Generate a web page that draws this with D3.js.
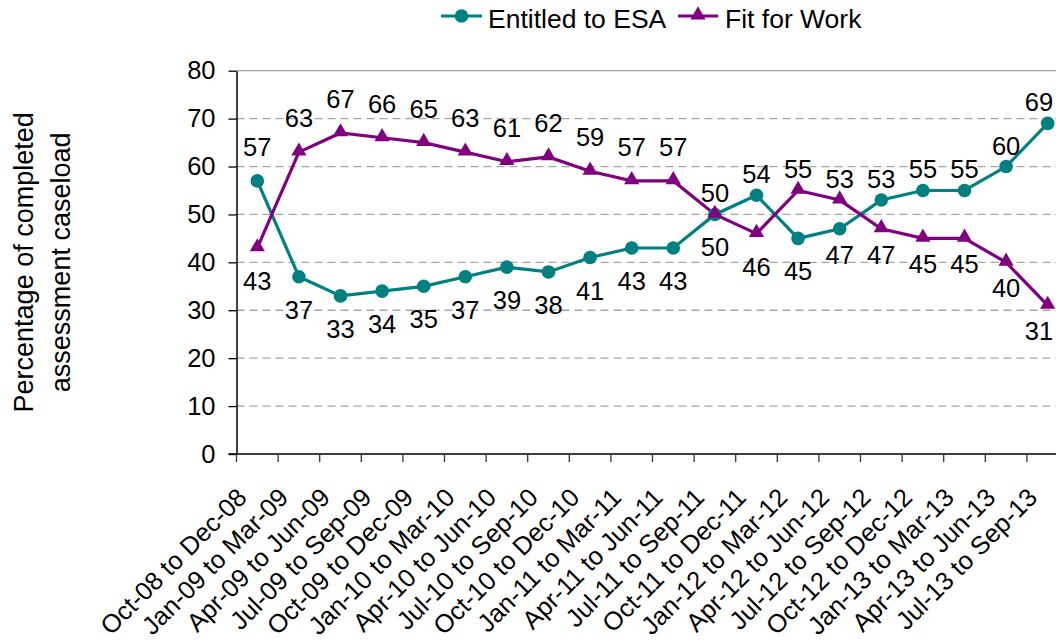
<!DOCTYPE html>
<html>
<head>
<meta charset="utf-8">
<script src="https://cdn.jsdelivr.net/npm/d3@7"></script>
<style>
  html, body { margin: 0; padding: 0; background: #fff; }
  svg { display: block; font-family: "Liberation Sans", Arial, sans-serif; }
</style>
</head>
<body>
<svg id="chart" width="1056" height="643"></svg>
<script>
const categories = [
  "Oct-08 to Dec-08", "Jan-09 to Mar-09", "Apr-09 to Jun-09", "Jul-09 to Sep-09",
  "Oct-09 to Dec-09", "Jan-10 to Mar-10", "Apr-10 to Jun-10", "Jul-10 to Sep-10",
  "Oct-10 to Dec-10", "Jan-11 to Mar-11", "Apr-11 to Jun-11", "Jul-11 to Sep-11",
  "Oct-11 to Dec-11", "Jan-12 to Mar-12", "Apr-12 to Jun-12", "Jul-12 to Sep-12",
  "Oct-12 to Dec-12", "Jan-13 to Mar-13", "Apr-13 to Jun-13", "Jul-13 to Sep-13"
];
const entitledESA = [57, 37, 33, 34, 35, 37, 39, 38, 41, 43, 43, 50, 54, 45, 47, 53, 55, 55, 60, 69];
const fitForWork  = [43, 63, 67, 66, 65, 63, 61, 62, 59, 57, 57, 50, 46, 55, 53, 47, 45, 45, 40, 31];
const yTicks = [0, 10, 20, 30, 40, 50, 60, 70, 80];
const seriesNames = ["Entitled to ESA", "Fit for Work"];
const yTitle = ["Percentage of completed", "assessment caseload"];

(function () {
const teal = "#008080", purple = "#800080";
const fsTick = 25.5, fsLab = 25.5, fsX = 25.5, fsTitle = 27, fsLeg = 26.5;

const svg = d3.select("#chart");
const plotLeft = 236.5, plotTop = 70.7, plotBottom = 454, W = 1056;
const bandW = 41.6;

const x = d3.scaleBand().domain(categories).range([plotLeft, plotLeft + bandW * categories.length]).padding(0);
const y = d3.scaleLinear().domain([0, 80]).range([plotBottom, plotTop]);
const cx = d => x(d) + x.bandwidth() / 2;

// gridlines
svg.append("g").selectAll("line")
  .data(yTicks.filter(t => t > 0))
  .join("line")
  .attr("x1", plotLeft).attr("x2", W)
  .attr("y1", d => y(d)).attr("y2", d => y(d))
  .attr("stroke", "#a6a6a6").attr("stroke-width", 1.3)
  .attr("stroke-dasharray", d => d === 80 ? null : "8,5");

// y axis
const yAxis = svg.append("g").attr("transform", `translate(${plotLeft},0)`)
  .call(d3.axisLeft(y).tickValues(yTicks).tickSize(8).tickSizeOuter(0).tickPadding(13));
yAxis.select(".domain").attr("stroke", "#000").attr("stroke-width", 1.5);
yAxis.selectAll(".tick line").attr("stroke", "#000").attr("stroke-width", 1.3);
yAxis.selectAll(".tick text").attr("font-size", fsTick).attr("fill", "#000")
  .attr("font-family", "Liberation Sans, Arial, sans-serif");

// x axis line & ticks at band boundaries
svg.append("line").attr("x1", plotLeft - 8).attr("x2", W).attr("y1", plotBottom).attr("y2", plotBottom)
  .attr("stroke", "#000").attr("stroke-width", 1.5);
const bounds = categories.map(c => x(c));
svg.append("g").selectAll("line").data(bounds).join("line")
  .attr("x1", d => d).attr("x2", d => d).attr("y1", plotBottom).attr("y2", plotBottom + 8)
  .attr("stroke", "#333").attr("stroke-width", 1.3);

// x tick labels
svg.append("g").selectAll("text").data(categories).join("text")
  .attr("transform", d => `translate(${cx(d) - 9},${plotBottom + 45}) rotate(-45)`)
  .attr("text-anchor", "end")
  .attr("font-size", fsX).attr("fill", "#000")
  .text(d => d);

// y title
const yt = svg.append("text").attr("transform", `translate(0,${(plotTop + plotBottom) / 2}) rotate(-90)`)
  .attr("text-anchor", "middle").attr("font-size", fsTitle).attr("fill", "#000");
yt.append("tspan").attr("x", 0).attr("y", 33).text(yTitle[0]);
yt.append("tspan").attr("x", 0).attr("y", 70).text(yTitle[1]);

// lines
const line = d3.line().x((d, i) => cx(categories[i])).y(d => y(d));
svg.append("path").datum(entitledESA).attr("d", line).attr("fill", "none")
  .attr("stroke", teal).attr("stroke-width", 3.2);
svg.append("path").datum(fitForWork).attr("d", line).attr("fill", "none")
  .attr("stroke", purple).attr("stroke-width", 3.2);

// markers
svg.append("g").selectAll("circle").data(entitledESA).join("circle")
  .attr("cx", (d, i) => cx(categories[i])).attr("cy", d => y(d)).attr("r", 6.8)
  .attr("fill", teal);
const tri = d3.symbol().type(d3.symbolTriangle).size(100);
svg.append("g").selectAll("path").data(fitForWork).join("path")
  .attr("d", tri)
  .attr("transform", (d, i) => `translate(${cx(categories[i])},${y(d) - 1})`)
  .attr("fill", purple);

// data labels
function labels(vals, other) {
  svg.append("g").selectAll("text").data(vals).join("text")
    .attr("x", (d, i) => Math.min(cx(categories[i]), W - 17))
    .attr("y", (d, i) => {
      const above = d > other[i] || (d === other[i] && vals === entitledESA);
      const off = above ? (i < 11 ? -34 : -21) : (i < 14 ? 33 : 26);
      return y(d) + off + 9;
    })
    .attr("text-anchor", "middle").attr("font-size", fsLab).attr("fill", "#000")
    .text(d => d);
}
labels(entitledESA, fitForWork);
labels(fitForWork, entitledESA);

// legend
const lg = svg.append("g");
lg.append("line").attr("x1", 441).attr("x2", 482).attr("y1", 16).attr("y2", 16)
  .attr("stroke", teal).attr("stroke-width", 3.2);
lg.append("circle").attr("cx", 461.5).attr("cy", 16).attr("r", 6.8).attr("fill", teal);
lg.append("text").attr("x", 488).attr("y", 28).attr("font-size", fsLeg).attr("fill", "#000").text(seriesNames[0]);
lg.append("line").attr("x1", 678).attr("x2", 718).attr("y1", 16).attr("y2", 16)
  .attr("stroke", purple).attr("stroke-width", 3.2);
lg.append("path").attr("d", tri).attr("transform", "translate(698,15)").attr("fill", purple);
lg.append("text").attr("x", 725).attr("y", 28).attr("font-size", fsLeg).attr("fill", "#000").text(seriesNames[1]);
})();
</script>
</body>
</html>
